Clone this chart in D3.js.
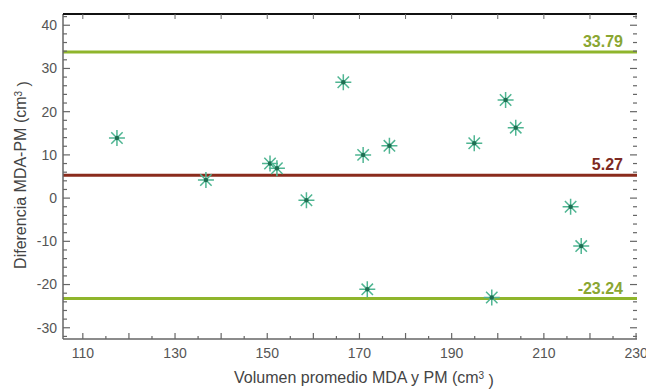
<!DOCTYPE html>
<html>
<head>
<meta charset="utf-8">
<script src="https://cdn.jsdelivr.net/npm/d3@7"></script>
<style>
  body { margin: 0; background: #fff; }
  svg { display: block; font-family: "Liberation Sans", Arial, sans-serif; }
</style>
</head>
<body>
<svg id="chart" width="646" height="389"></svg>
<script>
// mean volume (x) and difference (y) for each case
const volumen = [117.4, 136.7, 150.6, 152.1, 158.5, 166.5, 170.8, 171.7, 176.5, 194.9, 198.7, 201.7, 203.9, 215.8, 218.1];
const diferencia = [13.9, 4.2, 8.0, 6.9, -0.5, 26.8, 10.0, -21.1, 12.1, 12.7, -23.0, 22.7, 16.3, -2.0, -11.1];

// limits of agreement and mean bias
const lineValues = [33.79, 5.27, -23.24];
const lineLabels = ["33.79", "5.27", "-23.24"];
const lineColors = ["#8fb52c", "#8a2b1c", "#8fb52c"];
const labelColors = ["#8aa632", "#7d2a22", "#8aa632"];

const xTicks = [110, 130, 150, 170, 190, 210, 230];
const yTicks = [40, 30, 20, 10, 0, -10, -20, -30];

const svg = d3.select("#chart");
const pLeft = 63, pRight = 637, pTop = 14, pBottom = 339;

const x = d3.scaleLinear().domain([105.7, 230.2]).range([pLeft, pRight]);
const y = d3.scaleLinear().domain([-32.6, 42.6]).range([pBottom, pTop]);

const axisColor = "#666";
const textColor = "#555";

// bias / limit lines
svg.append("g")
  .selectAll("line")
  .data(lineValues)
  .join("line")
  .attr("x1", pLeft)
  .attr("x2", pRight)
  .attr("y1", d => y(d))
  .attr("y2", d => y(d))
  .attr("stroke", (d, i) => lineColors[i])
  .attr("stroke-width", 3);

svg.append("g")
  .selectAll("text")
  .data(lineValues)
  .join("text")
  .attr("x", pRight - 14)
  .attr("y", d => y(d) - 5)
  .attr("text-anchor", "end")
  .attr("fill", (d, i) => labelColors[i])
  .style("font-size", "16px")
  .style("font-weight", "bold")
  .text((d, i) => lineLabels[i]);

// y minor/major ticks
const yMinor = d3.range(-32, 42.1, 2);
const xMinor = d3.range(110, 230.1, 5);

// left axis
svg.append("line")
  .attr("x1", pLeft).attr("x2", pLeft)
  .attr("y1", pTop).attr("y2", pBottom)
  .attr("stroke", axisColor).attr("stroke-width", 1.5);

svg.append("g")
  .selectAll("line")
  .data(yMinor)
  .join("line")
  .attr("x1", pLeft)
  .attr("x2", d => pLeft + (d % 10 === 0 ? 7 : 4))
  .attr("y1", d => y(d)).attr("y2", d => y(d))
  .attr("stroke", axisColor).attr("stroke-width", 1.2);

// right side ticks (no frame line)
svg.append("g")
  .selectAll("line")
  .data(yMinor)
  .join("line")
  .attr("x1", pRight)
  .attr("x2", d => pRight - (d % 10 === 0 ? 7 : 4))
  .attr("y1", d => y(d)).attr("y2", d => y(d))
  .attr("stroke", axisColor).attr("stroke-width", 1.2);

svg.append("g")
  .selectAll("text")
  .data(yTicks)
  .join("text")
  .attr("x", pLeft - 6)
  .attr("y", d => y(d))
  .attr("dy", "0.35em")
  .attr("text-anchor", "end")
  .attr("fill", textColor)
  .style("font-size", "14px")
  .text(d => d);

// bottom axis
svg.append("line")
  .attr("x1", pLeft).attr("x2", pRight)
  .attr("y1", pBottom).attr("y2", pBottom)
  .attr("stroke", axisColor).attr("stroke-width", 1.5);

svg.append("g")
  .selectAll("line")
  .data(xMinor)
  .join("line")
  .attr("x1", d => x(d)).attr("x2", d => x(d))
  .attr("y1", pBottom)
  .attr("y2", d => pBottom - (d % 10 === 0 ? 6 : 3))
  .attr("stroke", axisColor).attr("stroke-width", 1.2);

// top frame
svg.append("line")
  .attr("x1", pLeft).attr("x2", pRight)
  .attr("y1", pTop).attr("y2", pTop)
  .attr("stroke", "#111").attr("stroke-width", 2);

svg.append("g")
  .selectAll("line")
  .data(xMinor.filter(d => d % 10 === 0))
  .join("line")
  .attr("x1", d => x(d)).attr("x2", d => x(d))
  .attr("y1", pTop)
  .attr("y2", pTop + 5)
  .attr("stroke", axisColor).attr("stroke-width", 1);

svg.append("g")
  .selectAll("text")
  .data(xTicks)
  .join("text")
  .attr("x", d => x(d))
  .attr("y", pBottom + 19)
  .attr("text-anchor", "middle")
  .attr("fill", textColor)
  .style("font-size", "14px")
  .text(d => d);

// axis titles
const xTitle = svg.append("text")
  .attr("x", 364)
  .attr("y", 383)
  .attr("text-anchor", "middle")
  .attr("fill", "#444")
  .style("font-size", "16px");
xTitle.append("tspan").text("Volumen promedio MDA y PM (cm");
xTitle.append("tspan").attr("dy", "-0.45em").style("font-size", "10px").text("3");
xTitle.append("tspan").attr("dy", "0.45em").text(" )");

const yTitle = svg.append("text")
  .attr("transform", "translate(26,175) rotate(-90)")
  .attr("text-anchor", "middle")
  .attr("fill", "#444")
  .style("font-size", "16px");
yTitle.append("tspan").text("Diferencia MDA-PM (cm");
yTitle.append("tspan").attr("dy", "-0.45em").style("font-size", "10px").text("3");
yTitle.append("tspan").attr("dy", "0.45em").text(" )");

// asterisk markers
const star = "M-8,0L8,0M0,-8L0,8M-5.7,-5.7L5.7,5.7M-5.7,5.7L5.7,-5.7";
const pts = svg.append("g")
  .selectAll("g")
  .data(volumen.map((v, i) => [v, diferencia[i]]))
  .join("g")
  .attr("transform", d => `translate(${x(d[0])},${y(d[1])})`);

pts.append("path")
  .attr("d", star)
  .attr("stroke", "#4fb592")
  .attr("stroke-width", 1.5)
  .attr("fill", "none");

pts.append("circle")
  .attr("r", 2.2)
  .attr("fill", "#1f6e52");
</script>
</body>
</html>
